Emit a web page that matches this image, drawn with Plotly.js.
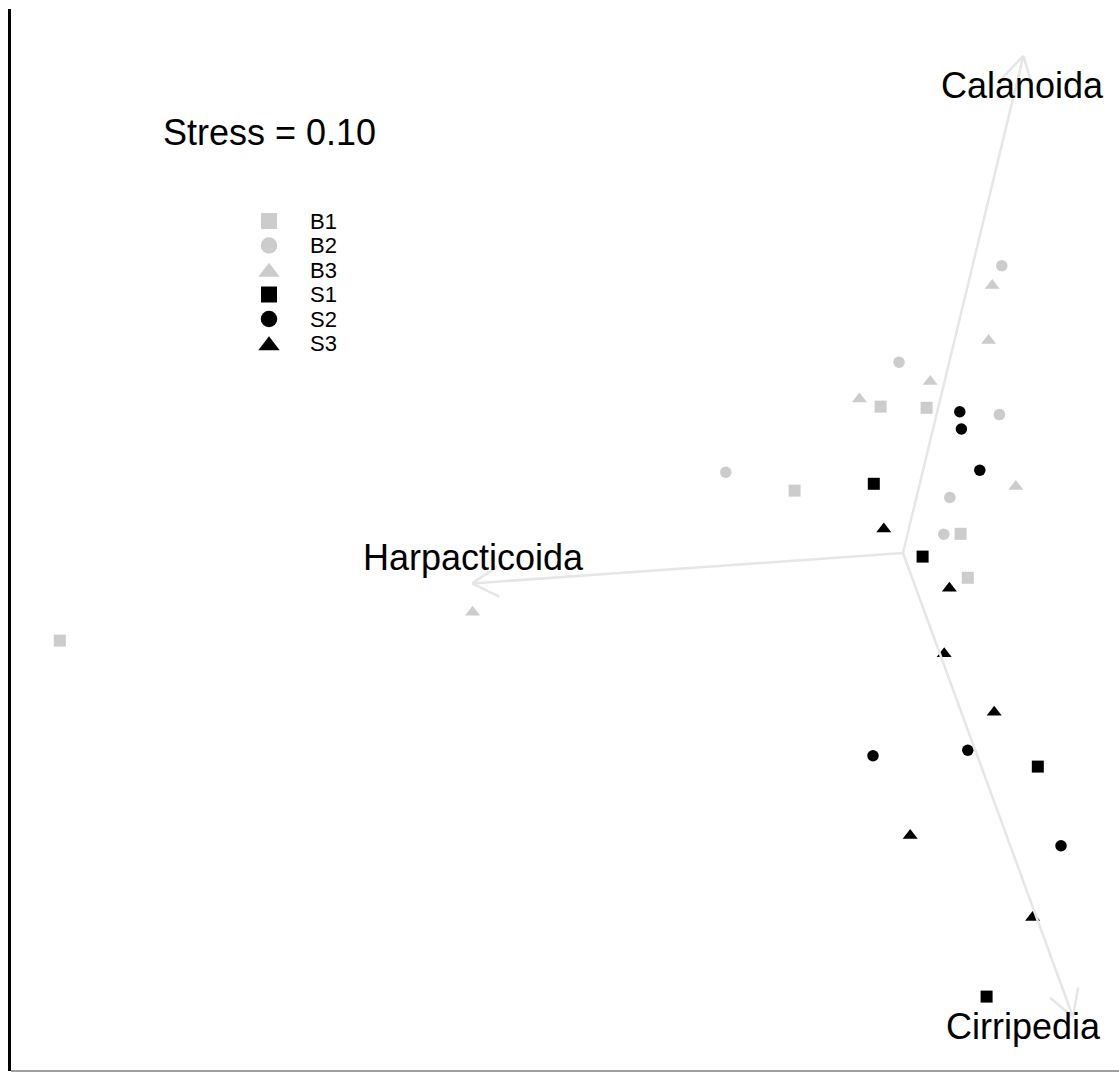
<!DOCTYPE html>
<html>
<head>
<meta charset="utf-8">
<script src="https://cdn.plot.ly/plotly-3.0.1.min.js"></script>
<style>
  html, body { margin: 0; padding: 0; background: #ffffff; }
  #plot { width: 1119px; height: 1072px; }
</style>
</head>
<body>
<div id="plot"></div>
<script>
// NMDS site scores, one pair of arrays per group
const groups = ['B1', 'B2', 'B3', 'S1', 'S2', 'S3'];
const b1x = [-0.056, 0.059, -0.271, 0.144, 0.162, -2.108];
const b1y = [0.366, 0.363, 0.156, 0.048, -0.062, -0.219];
const b2x = [0.247, -0.010, 0.241, -0.443, 0.117, 0.102];
const b2y = [0.718, 0.477, 0.346, 0.202, 0.139, 0.047];
const b3x = [0.223, 0.214, 0.068, -0.109, 0.282, -1.076];
const b3y = [0.669, 0.531, 0.429, 0.385, 0.166, -0.148];
const s1x = [-0.073, 0.049, 0.337, 0.209];
const s1y = [0.173, -0.009, -0.534, -1.109];
const s2x = [0.142, 0.146, 0.192, -0.075, 0.162, 0.395];
const s2y = [0.353, 0.310, 0.207, -0.507, -0.493, -0.732];
const s3x = [-0.048, 0.116, 0.103, 0.228, 0.018, 0.324];
const s3y = [0.060, -0.088, -0.252, -0.398, -0.706, -0.911];

// fitted taxon vectors and their label positions
const taxa = ['Calanoida', 'Harpacticoida', 'Cirripedia'];
const vecX = [0.301, -1.077, 0.425];
const vecY = [1.243, -0.076, -1.160];
const labX = [0.298, -1.073, 0.300];
const labY = [1.168, -0.011, -1.184];

const stress = 0.10;

// ---- figure geometry ----
const W = 1119, H = 1072;
const xr = [-2.2575, 0.54];
const yr = [-1.2975, 1.3825];
const kx = W / (xr[1] - xr[0]);   // px per unit
const ky = H / (yr[1] - yr[0]);

const GREY = '#cccccc', BLACK = '#000000';
const groupX = [b1x, b2x, b3x, s1x, s2x, s3x];
const groupY = [b1y, b2y, b3y, s1y, s2y, s3y];
const symbols = ['square', 'circle', 'triangle-up', 'square', 'circle', 'triangle-up'];
const colors = [GREY, GREY, GREY, BLACK, BLACK, BLACK];
const sizes = {'square': 12, 'circle': 11.5, 'triangle-up': 13};
const legSizes = {'square': 16, 'circle': 16.5, 'triangle-up': 18.5};

const traces = [];

groups.forEach((g, i) => {
  traces.push({
    type: 'scatter', mode: 'markers', name: g,
    x: groupX[i], y: groupY[i],
    marker: { symbol: symbols[i], color: colors[i], size: sizes[symbols[i]], opacity: 1, line: { width: 0 } },
    showlegend: false, hoverinfo: 'skip'
  });
});

// vectors with open arrowheads (30 px barbs at 30 degrees)
const headLen = 30, headAng = Math.PI / 6;
const ax = [], ay = [];
vecX.forEach((vx, i) => {
  const vy = vecY[i];
  ax.push(0, vx, null);
  ay.push(0, vy, null);
  const ang = Math.atan2(vy * ky, vx * kx);
  [ang + headAng, ang - headAng].forEach(a => {
    ax.push(vx, vx - headLen * Math.cos(a) / kx, null);
    ay.push(vy, vy - headLen * Math.sin(a) / ky, null);
  });
});
traces.push({
  type: 'scatter', mode: 'lines', x: ax, y: ay,
  line: { color: '#e6e6e6', width: 2.5 },
  showlegend: false, hoverinfo: 'skip'
});

// key drawn on a pixel-scaled overlay axis pair
const legX0 = 269, legY0 = 221, legStep = 24.5, legTextX = 308;
traces.push({
  type: 'scatter', mode: 'markers', xaxis: 'x2', yaxis: 'y2',
  x: groups.map(() => legX0),
  y: groups.map((g, i) => legY0 + i * legStep + (symbols[i] === 'triangle-up' ? 2 : 0)),
  marker: {
    symbol: symbols, color: colors, opacity: 1,
    size: symbols.map(s => legSizes[s]), line: { width: 0 }
  },
  showlegend: false, hoverinfo: 'skip'
});

const FONT = 'Liberation Sans, Arial, Helvetica, sans-serif';
const annotations = [];
taxa.forEach((t, i) => annotations.push({
  x: labX[i], y: labY[i], xref: 'x', yref: 'y', text: t, showarrow: false,
  xanchor: 'center', yanchor: 'middle',
  font: { family: FONT, size: 36, color: '#000' }
}));
annotations.push({
  x: 269, y: 132.5, xref: 'x2', yref: 'y2', text: 'Stress = ' + stress.toFixed(2),
  showarrow: false, xanchor: 'center', yanchor: 'middle',
  font: { family: FONT, size: 36, color: '#000' }
});
groups.forEach((g, i) => annotations.push({
  x: legTextX, y: legY0 + i * legStep, xref: 'x2', yref: 'y2', text: g,
  showarrow: false, xanchor: 'left', yanchor: 'middle',
  font: { family: FONT, size: 22, color: '#000' }
}));

const hidden = { showgrid: false, zeroline: false, showticklabels: false, showline: false, ticks: '', fixedrange: true };
const layout = {
  width: W, height: H,
  margin: { l: 0, r: 0, t: 0, b: 0, pad: 0 },
  paper_bgcolor: '#ffffff', plot_bgcolor: '#ffffff',
  showlegend: false,
  xaxis: Object.assign({ range: xr }, hidden),
  yaxis: Object.assign({ range: yr }, hidden),
  xaxis2: Object.assign({ range: [0, W], overlaying: 'x', visible: false }, hidden),
  yaxis2: Object.assign({ range: [H, 0], overlaying: 'y', visible: false }, hidden),
  annotations: annotations,
  shapes: [
    { type: 'line', xref: 'paper', yref: 'paper', x0: 9.5 / W, x1: 9.5 / W, y0: 1 - 9 / H, y1: 1 - 1071 / H,
      line: { color: '#000000', width: 3 } },
    { type: 'line', xref: 'paper', yref: 'paper', x0: 11 / W, x1: 1, y0: 1 - 1071 / H, y1: 1 - 1071 / H,
      line: { color: '#808080', width: 1.5 } }
  ]
};

Plotly.newPlot('plot', traces, layout, { displayModeBar: false, staticPlot: true });
</script>
</body>
</html>
